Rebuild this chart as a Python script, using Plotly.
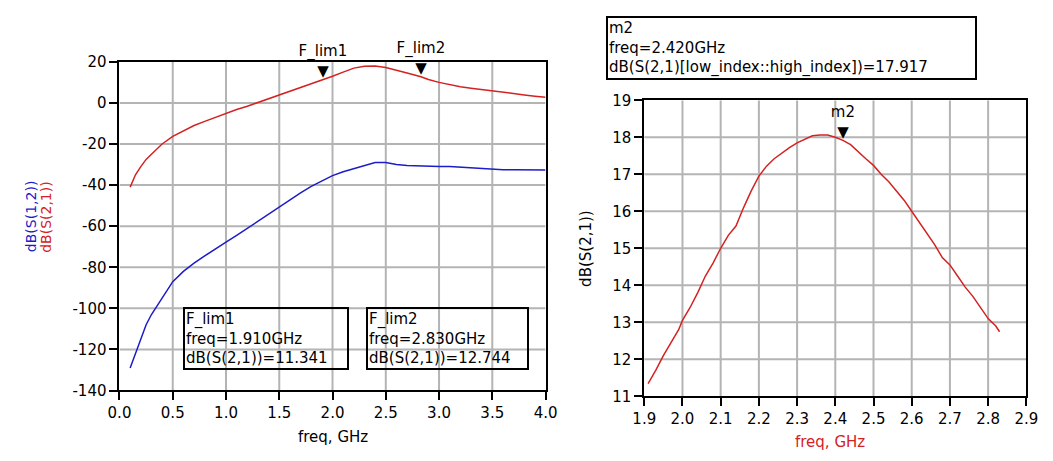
import plotly.graph_objects as go

# ---- S-parameter sweep, 0.1 - 4.0 GHz ----
sweep_freq = [0.10, 0.15, 0.20, 0.25, 0.30, 0.35, 0.40, 0.50, 0.60, 0.70, 0.80, 0.90,
              1.00, 1.10, 1.20, 1.30, 1.40, 1.50, 1.60, 1.70, 1.80, 1.91, 2.00, 2.10,
              2.20, 2.30, 2.40, 2.50, 2.60, 2.70, 2.83, 2.90, 3.00, 3.10, 3.20, 3.30,
              3.40, 3.50, 3.60, 3.70, 3.80, 3.90, 4.00]
s21_db = [-41.0, -35.0, -31.0, -27.5, -25.0, -22.5, -20.0, -16.3, -13.5, -11.0, -9.0, -7.0,
          -5.0, -3.2, -1.6, 0.2, 2.0, 3.8, 5.5, 7.3, 9.2, 11.341, 13.0, 15.0,
          16.95, 17.85, 18.0, 17.24, 16.0, 14.55, 12.744, 11.4, 10.0, 8.8, 7.9, 7.2,
          6.5, 5.7, 5.0, 4.4, 3.9, 3.3, 2.8]
s12_db = [-129.0, -122.0, -114.0, -108.0, -103.0, -99.0, -95.0, -87.0, -82.0, -78.0, -74.5, -71.0,
          -67.8, -64.5, -61.0, -57.5, -54.0, -50.5, -47.0, -43.8, -40.6, -37.6, -35.4, -33.5,
          -32.0, -30.3, -29.0, -29.0, -30.0, -30.5, -30.8, -30.8, -31.0, -31.0, -31.3, -31.8,
          -32.2, -32.3, -32.5, -32.5, -32.6, -32.6, -32.6]

# ---- S21 between low_index and high_index (1.91 - 2.83 GHz) ----
band_freq = [1.91, 1.93, 1.95, 1.97, 1.99, 2.00, 2.02, 2.04, 2.06, 2.08, 2.10, 2.12,
             2.14, 2.16, 2.18, 2.20, 2.22, 2.24, 2.26, 2.28, 2.30, 2.32, 2.34, 2.36,
             2.38, 2.40, 2.42, 2.44, 2.46, 2.48, 2.50, 2.52, 2.54, 2.56, 2.58, 2.60,
             2.62, 2.64, 2.66, 2.68, 2.70, 2.72, 2.74, 2.76, 2.78, 2.80, 2.82, 2.83]
band_s21_db = [11.341, 11.7, 12.1, 12.45, 12.8, 13.05, 13.4, 13.8, 14.25, 14.6, 15.0, 15.35,
               15.6, 16.1, 16.55, 16.95, 17.22, 17.42, 17.58, 17.72, 17.85, 17.95, 18.04, 18.06,
               18.06, 18.0, 17.917, 17.8, 17.6, 17.42, 17.24, 17.0, 16.8, 16.55, 16.3, 16.0,
               15.7, 15.4, 15.1, 14.75, 14.55, 14.25, 13.95, 13.7, 13.4, 13.1, 12.9, 12.744]

# ---- markers ----
flim_names = ["F_lim1", "F_lim2"]
flim_freq = [1.91, 2.83]
flim_db = [11.341, 12.744]
m2_freq = [2.42]
m2_db = [17.917]

# ---- tick labels (plain hyphen minus) ----
left_y_ticks = [-140, -120, -100, -80, -60, -40, -20, 0, 20]
left_y_text = ["-140", "-120", "-100", "-80", "-60", "-40", "-20", "0", "20"]

# ---- axis ranges and interior grid positions ----
left_x_range = [0, 4]
left_y_range = [-140, 20]
right_x_range = [1.9, 2.9]
right_y_range = [11, 19]
left_x_grid = [0.5, 1.0, 1.5, 2.0, 2.5, 3.0, 3.5]
left_y_grid = [-120, -100, -80, -60, -40, -20, 0]
right_x_grid = [2.0, 2.1, 2.2, 2.3, 2.4, 2.5, 2.6, 2.7, 2.8]
right_y_grid = [12, 13, 14, 15, 16, 17, 18]

RED = "#d42222"
BLUE = "#1c1cc8"
GRID = "#b4b4b4"
FONT = "DejaVu Sans"
W, H = 1053, 461


def px_x(p):
    return p / W


def px_y(p):
    return 1 - p / H


def grid_trace(xg, yg, xr, yr, xa, ya):
    """One polyline holding every grid line of a panel, gaps between with None."""
    gx, gy = [], []
    for v in xg:
        gx += [v, v, None]
        gy += [yr[0], yr[1], None]
    for v in yg:
        gx += [xr[0], xr[1], None]
        gy += [v, v, None]
    return go.Scatter(x=gx, y=gy, mode="lines", line=dict(color=GRID, width=2),
                      hoverinfo="skip", xaxis=xa, yaxis=ya)


fig = go.Figure()

# grid first so the curves sit on top of it
fig.add_trace(grid_trace(left_x_grid, left_y_grid, left_x_range, left_y_range, "x", "y"))
fig.add_trace(grid_trace(right_x_grid, right_y_grid, right_x_range, right_y_range, "x2", "y2"))

fig.add_trace(go.Scatter(x=sweep_freq, y=s21_db, mode="lines",
                         line=dict(color=RED, width=1.5), xaxis="x", yaxis="y"))
fig.add_trace(go.Scatter(x=sweep_freq, y=s12_db, mode="lines",
                         line=dict(color=BLUE, width=1.5), xaxis="x", yaxis="y"))
fig.add_trace(go.Scatter(x=flim_freq, y=flim_db, mode="text",
                         text=[n + "<br>▼" for n in flim_names],
                         textposition="top center", cliponaxis=False,
                         textfont=dict(family=FONT, size=15, color="black"),
                         xaxis="x", yaxis="y"))

fig.add_trace(go.Scatter(x=band_freq, y=band_s21_db, mode="lines",
                         line=dict(color=RED, width=1.5), xaxis="x2", yaxis="y2"))
fig.add_trace(go.Scatter(x=m2_freq, y=m2_db, mode="text", text=["m2<br>▼"],
                         textposition="top center", cliponaxis=False,
                         textfont=dict(family=FONT, size=15, color="black"),
                         xaxis="x2", yaxis="y2"))

MAJOR = dict(
    showline=True, linecolor="black", linewidth=2, mirror=True,
    showgrid=False, zeroline=False,
    ticks="outside", ticklen=8, tickwidth=2, tickcolor="black",
    tickfont=dict(family=FONT, size=15, color="black"),
    fixedrange=True,
)
# minor tick rows: overlay axes that only carry short outside ticks
MINOR = dict(
    showline=False, showgrid=False, zeroline=False, showticklabels=False,
    ticks="outside", ticklen=3, tickwidth=2, tickcolor="black",
    fixedrange=True,
)

LX = [px_x(110), px_x(546)]
LY = [px_y(397), px_y(55)]
RX = [px_x(647), px_x(1038)]
RY = [px_y(403), px_y(95)]

fig.update_layout(
    width=W, height=H, autosize=False,
    margin=dict(l=0, r=0, t=0, b=0),
    paper_bgcolor="white", plot_bgcolor="white",
    showlegend=False,
    xaxis=dict(domain=LX, anchor="y", range=left_x_range,
               tick0=0, dtick=0.5, tickformat=".1f", **MAJOR),
    yaxis=dict(domain=LY, anchor="x", range=left_y_range,
               tickmode="array", tickvals=left_y_ticks, ticktext=left_y_text, **MAJOR),
    xaxis2=dict(domain=RX, anchor="y2", range=right_x_range,
                tick0=1.9, dtick=0.1, tickformat=".1f", **MAJOR),
    yaxis2=dict(domain=RY, anchor="x2", range=right_y_range,
                tick0=11, dtick=1, tickformat="d", **MAJOR),
    xaxis3=dict(overlaying="x", anchor="y", side="bottom", range=left_x_range,
                tick0=0, dtick=0.1, **MINOR),
    yaxis3=dict(overlaying="y", anchor="x", side="left", range=left_y_range,
                tick0=0, dtick=10, **MINOR),
    xaxis4=dict(overlaying="x2", anchor="y2", side="bottom", range=right_x_range,
                tick0=1.9, dtick=0.02, **MINOR),
    yaxis4=dict(overlaying="y2", anchor="x2", side="left", range=right_y_range,
                tick0=11, dtick=0.2, **MINOR),
)

annotations = [
    # axis titles
    dict(text="dB(S(1,2))", x=px_x(19), y=px_y(216), textangle=-90,
         font=dict(family=FONT, size=14, color=BLUE)),
    dict(text="dB(S(2,1))", x=px_x(34), y=px_y(216), textangle=-90,
         font=dict(family=FONT, size=14, color=RED)),
    dict(text="freq, GHz", x=px_x(328), y=px_y(445),
         font=dict(family=FONT, size=15, color="black")),
    dict(text="freq, GHz", x=px_x(837), y=px_y(451),
         font=dict(family=FONT, size=15, color=RED)),
    dict(text="dB(S(2,1))", x=px_x(588), y=px_y(249), textangle=-90,
         font=dict(family=FONT, size=15, color="black")),
]
for a in annotations:
    a.update(xref="paper", yref="paper", showarrow=False,
             xanchor="center", yanchor="middle")

# marker readout boxes
boxes = [
    (175, 310, 166, "F_lim1<br>freq=1.910GHz<br>dB(S(2,1))=11.341"),
    (362, 310, 163, "F_lim2<br>freq=2.830GHz<br>dB(S(2,1))=12.744"),
    (608, 7, 371, "m2<br>freq=2.420GHz<br>dB(S(2,1)[low_index::high_index])=17.917"),
]
for bx, by, bw, txt in boxes:
    annotations.append(dict(
        text=txt, xref="paper", yref="paper", x=px_x(bx), y=px_y(by),
        xanchor="left", yanchor="top", align="left", showarrow=False,
        width=bw - 6, borderpad=1, bordercolor="black", borderwidth=2,
        bgcolor="rgba(255,255,255,0)",
        font=dict(family=FONT, size=15, color="black"),
    ))

fig.update_layout(annotations=annotations)

fig.write_html("out.html")
